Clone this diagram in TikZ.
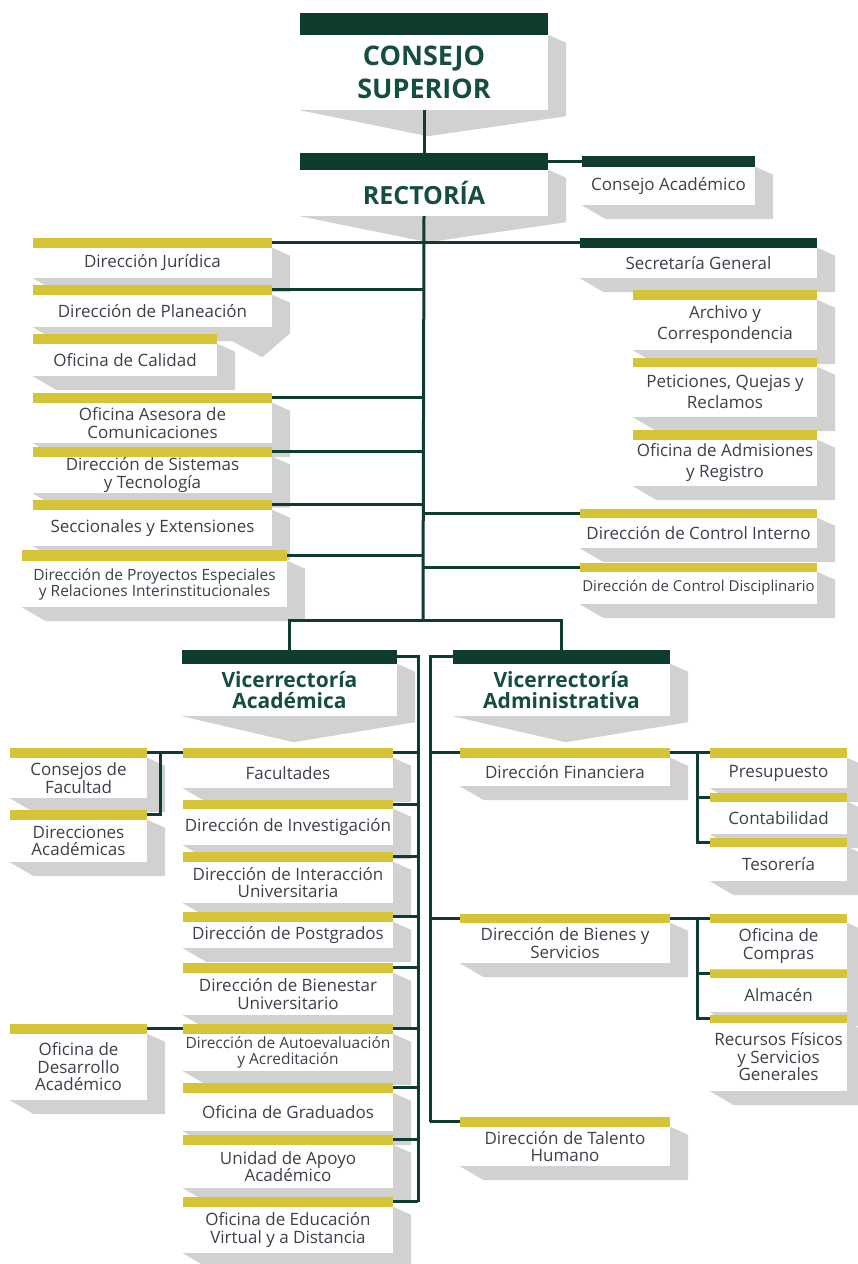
\documentclass[tikz,border=0pt]{standalone}
\usepackage{fontspec}
\setmainfont{Open Sans}
\pgfdeclarelayer{background}
\pgfsetlayers{background,main}
\definecolor{bargreen}{RGB}{14,60,46}
\definecolor{baryellow}{RGB}{214,196,56}
\definecolor{txtgray}{RGB}{62,64,74}
\definecolor{ttlgreen}{RGB}{22,78,62}
\tikzset{
  orgbox/.style={rectangle, fill=white, align=center, inner sep=1pt, text=txtgray, font=\fontsize{17}{17.5}\selectfont},
  headbox/.style={orgbox, text=ttlgreen, font=\bfseries\fontsize{27}{33}\selectfont},
  vicebox/.style={orgbox, text=ttlgreen, font=\bfseries\fontsize{21}{21.5}\selectfont},
  tight/.style={font=\fontsize{15.5}{16}\selectfont},
  link/.style={draw=bargreen, line width=3pt},
  boxshadow/.style={fill=black!18},
}
\begin{document}
\begin{tikzpicture}[x=1pt, y=-1pt]
\begin{pgfonlayer}{background}
\fill[white] (0,0) rectangle (857,1264);
\end{pgfonlayer}
\useasboundingbox (0,0) rectangle (857,1264);

% top
\node[headbox, minimum width=248, minimum height=75] (cs) at (424,72.5) {CONSEJO\\SUPERIOR};
\node[headbox, minimum width=248, minimum height=46, font=\bfseries\fontsize{25}{30}\selectfont] (rec) at (424,193) {RECTORÍA};
\node[orgbox, minimum width=173, minimum height=38] (ca) at (668.5,186) {Consejo Académico};

% staff, left side
\node[orgbox, minimum width=239, minimum height=30] (dj) at (152.5,263) {Dirección Jurídica};
\node[orgbox, minimum width=239, minimum height=32] (dp) at (152.5,311) {Dirección de Planeación};
\node[orgbox, minimum width=184, minimum height=32] (oc) at (125,360) {Oficina de Calidad};
\node[orgbox, minimum width=239, minimum height=40] (oac) at (152.5,423) {Oficina Asesora de\\Comunicaciones};
\node[orgbox, minimum width=239, minimum height=36] (dst) at (152.5,475) {Dirección de Sistemas\\y Tecnología};
\node[orgbox, minimum width=239, minimum height=36] (sye) at (152.5,528) {Seccionales y Extensiones};
\node[orgbox, tight, minimum width=265, minimum height=46] (dpe) at (154.5,584) {Dirección de Proyectos Especiales\\y Relaciones Interinstitucionales};

% staff, right side
\node[orgbox, minimum width=237, minimum height=30] (sg) at (698.5,263) {Secretaría General};
\node[orgbox, minimum width=184, minimum height=50, font=\fontsize{17}{21}\selectfont] (ayc) at (725,325) {Archivo y\\Correspondencia};
\node[orgbox, minimum width=184, minimum height=50, font=\fontsize{17}{21}\selectfont] (pqr) at (725,392) {Peticiones, Quejas y\\Reclamos};
\node[orgbox, minimum width=184, minimum height=46, font=\fontsize{17}{21}\selectfont] (oar) at (725,463) {Oficina de Admisiones\\y Registro};
\node[orgbox, minimum width=237, minimum height=30] (dci) at (698.5,533) {Dirección de Control Interno};
\node[orgbox, font=\fontsize{15}{16}\selectfont, minimum width=237, minimum height=32] (dcd) at (698.5,588) {Dirección de Control Disciplinario};

% vicerrectorias
\node[vicebox, minimum width=215, minimum height=52] (vac) at (289.5,690) {Vicerrectoría\\Académica};
\node[vicebox, minimum width=217, minimum height=52] (vad) at (561.5,690) {Vicerrectoría\\Administrativa};

% academica
\node[orgbox, minimum width=210, minimum height=30] (fac) at (288,773) {Facultades};
\node[orgbox, minimum width=210, minimum height=36] (din) at (288,827) {Dirección de Investigación};
\node[orgbox, minimum width=210, minimum height=41] (diu) at (288,882.5) {Dirección de Interacción\\Universitaria};
\node[orgbox, minimum width=210, minimum height=26] (dpo) at (288,935) {Dirección de Postgrados};
\node[orgbox, minimum width=210, minimum height=42] (dbu) at (288,994) {Dirección de Bienestar\\Universitario};
\node[orgbox, tight, minimum width=210, minimum height=37] (daa) at (288,1052.5) {Dirección de Autoevaluación\\y Acreditación};
\node[orgbox, minimum width=210, minimum height=38] (ogr) at (288,1112) {Oficina de Graduados};
\node[orgbox, minimum width=210, minimum height=43] (uaa) at (288,1166.5) {Unidad de Apoyo\\Académico};
\node[orgbox, minimum width=210, minimum height=46] (oev) at (288,1230) {Oficina de Educación\\Virtual y a Distancia};
\node[orgbox, minimum width=137, minimum height=40] (cf) at (78.5,778) {Consejos de\\Facultad};
\node[orgbox, minimum width=137, minimum height=42] (dac) at (78.5,841) {Direcciones\\Académicas};
\node[orgbox, minimum width=137, minimum height=66] (oda) at (78.5,1067) {Oficina de\\Desarrollo\\Académico};

% administrativa
\node[orgbox, minimum width=210, minimum height=28] (dfi) at (565,772) {Dirección Financiera};
\node[orgbox, minimum width=210, minimum height=40] (dbs) at (565,943) {Dirección de Bienes y\\Servicios};
\node[orgbox, minimum width=210, minimum height=39] (dth) at (565,1146.5) {Dirección de Talento\\Humano};
\node[orgbox, minimum width=137, minimum height=30] (pre) at (778.5,773) {Presupuesto};
\node[orgbox, minimum width=137, minimum height=32] (con) at (778.5,818) {Contabilidad};
\node[orgbox, minimum width=137, minimum height=34] (tes) at (778.5,864) {Tesorería};
\node[orgbox, minimum width=137, minimum height=46] (ocp) at (778.5,946) {Oficina de\\Compras};
\node[orgbox, minimum width=137, minimum height=34] (alm) at (778.5,995) {Almacén};
\node[orgbox, minimum width=137, minimum height=68] (rfs) at (778.5,1057) {Recursos Físicos\\y Servicios\\Generales};

% bars on top of every box
\foreach \n/\c/\h in {cs/bargreen/22, rec/bargreen/17, ca/bargreen/11, sg/bargreen/10,
    vac/bargreen/14, vad/bargreen/14,
    dj/baryellow/10, dp/baryellow/10, oc/baryellow/10, oac/baryellow/10, dst/baryellow/10,
    sye/baryellow/10, dpe/baryellow/11, ayc/baryellow/10, pqr/baryellow/9, oar/baryellow/10,
    dci/baryellow/9, dcd/baryellow/9, fac/baryellow/10, din/baryellow/9, diu/baryellow/10,
    dpo/baryellow/10, dbu/baryellow/10, daa/baryellow/10, ogr/baryellow/10, uaa/baryellow/10,
    oev/baryellow/10, cf/baryellow/10, dac/baryellow/10, oda/baryellow/10, dfi/baryellow/10,
    dbs/baryellow/9, dth/baryellow/10, pre/baryellow/10, con/baryellow/9, tes/baryellow/9,
    ocp/baryellow/9, alm/baryellow/8, rfs/baryellow/8}
{
  \fill[\c] (\n.north west) rectangle ([yshift=\h]\n.north east);
  \coordinate (\n-T) at ([yshift=\h]\n.north);
  \coordinate (\n-E) at ([yshift=\h/2]\n.north east);
  \coordinate (\n-W) at ([yshift=\h/2]\n.north west);
}

% connectors
\coordinate (jn) at (423,620);
\coordinate (ac) at (418,0);
\coordinate (ad) at (430,0);
\coordinate (fk) at (160,0);
\coordinate (fz) at (697,0);

\draw[link] (cs.south) -- (rec-T);
\draw[link] (rec-E) -- (ca-W);
\draw[link] (rec.south) -- (jn);
\draw[link] (vac-T) |- (jn) -| (vad-T);
\foreach \n in {dj,dp,oac,dst,sye,dpe}
  \draw[link] (\n-E) -- (\n-E -| jn);
\foreach \n in {sg,dci,dcd}
  \draw[link] (\n-W) -- (\n-W -| jn);

\draw[link] (vac-E) -- (vac-E -| ac) -- (oev-E -| ac);
\foreach \n in {fac,din,diu,dpo,dbu,daa,ogr,uaa,oev}
  \draw[link] (\n-E) -- (\n-E -| ac);
\draw[link] (cf-E) -- (fac-W);
\draw[link] (cf-E -| fk) |- (dac-E);
\draw[link] (oda-E) -- (daa-W);

\draw[link] (vad-W) -- (vad-W -| ad) -- (dth-W -| ad);
\foreach \n in {dfi,dbs,dth}
  \draw[link] (\n-W) -- (\n-W -| ad);
\draw[link] (dfi-E) -- (pre-W);
\draw[link] (pre-W -| fz) |- (tes-W);
\draw[link] (con-W -| fz) -- (con-W);
\draw[link] (dbs-E) -- (ocp-W);
\draw[link] (ocp-W -| fz) |- (rfs-W);
\draw[link] (alm-W -| fz) -- (alm-W);

% shadows
\begin{pgfonlayer}{background}
\foreach \n in {ca,sg,dj,oc,oac,dst,sye,dpe,ayc,pqr,oar,dci,dcd,fac,din,diu,dpo,dbu,daa,
    ogr,uaa,oev,cf,dac,oda,dfi,dbs,dth,pre,con,tes,ocp,alm,rfs}
  \fill[boxshadow] (\n.south west) -- ([xshift=24,yshift=-14]\n.south west)
    -- ([xshift=18,yshift=-14]\n.south east) -- ([xshift=18,yshift=-8]\n.north east)
    -- (\n.north east) -- cycle;
\foreach \n in {cs,rec,vac,vad}
  \fill[boxshadow] (\n.south west) -- ([xshift=4,yshift=-26]\n.south)
    -- ([xshift=18,yshift=-6]\n.south east) -- ([xshift=18,yshift=-8]\n.north east)
    -- (\n.north east) -- cycle;
\fill[boxshadow] (dp.south west) -- ([xshift=24,yshift=-14]dp.south west)
  -- ([xshift=-40,yshift=-14]dp.south east) -- ([xshift=-10,yshift=-30]dp.south east)
  -- ([xshift=18,yshift=-6]dp.south east) -- ([xshift=18,yshift=-8]dp.north east)
  -- (dp.north east) -- cycle;
\end{pgfonlayer}
\end{tikzpicture}
\end{document}
